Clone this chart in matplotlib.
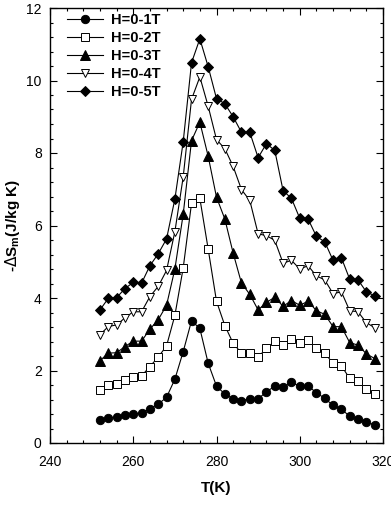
import numpy as np
import matplotlib
matplotlib.use("Agg")
import matplotlib.pyplot as plt
from matplotlib.ticker import MultipleLocator

plt.rcParams['font.family'] = ['Liberation Sans', 'DejaVu Sans']

T = list(range(252, 320, 2))

s1 = [0.63, 0.69, 0.71, 0.76, 0.80, 0.83, 0.95, 1.07, 1.26, 1.76, 2.52, 3.37,
      3.16, 2.20, 1.57, 1.35, 1.22, 1.17, 1.22, 1.22, 1.41, 1.57, 1.54, 1.67,
      1.57, 1.57, 1.39, 1.23, 1.04, 0.93, 0.74, 0.67, 0.58, 0.50]
s2 = [1.46, 1.59, 1.63, 1.73, 1.83, 1.85, 2.11, 2.37, 2.68, 3.52, 4.83, 6.61,
      6.75, 5.35, 3.91, 3.24, 2.75, 2.48, 2.48, 2.37, 2.61, 2.81, 2.70, 2.86,
      2.77, 2.83, 2.61, 2.48, 2.20, 2.13, 1.78, 1.70, 1.48, 1.35]
s3 = [2.27, 2.48, 2.49, 2.66, 2.81, 2.81, 3.14, 3.40, 3.80, 4.80, 6.31, 8.34,
      8.85, 7.91, 6.78, 6.18, 5.24, 4.41, 4.10, 3.67, 3.88, 4.02, 3.77, 3.93,
      3.80, 3.91, 3.65, 3.55, 3.21, 3.21, 2.77, 2.70, 2.46, 2.33]
s4 = [2.99, 3.21, 3.26, 3.45, 3.62, 3.62, 4.04, 4.32, 4.76, 5.83, 7.34, 9.48,
      10.10, 9.29, 8.37, 8.12, 7.63, 6.99, 6.69, 5.77, 5.72, 5.59, 4.96, 5.04,
      4.80, 4.89, 4.61, 4.50, 4.12, 4.17, 3.65, 3.62, 3.32, 3.18]
s5 = [3.67, 3.99, 4.01, 4.26, 4.43, 4.41, 4.89, 5.22, 5.63, 6.73, 8.31, 10.49,
      11.15, 10.38, 9.50, 9.36, 9.00, 8.57, 8.57, 7.87, 8.26, 8.07, 6.96, 6.75,
      6.20, 6.18, 5.70, 5.55, 5.04, 5.11, 4.52, 4.50, 4.17, 4.06]

labels = ["H=0-1T", "H=0-2T", "H=0-3T", "H=0-4T", "H=0-5T"]
series = [s1, s2, s3, s4, s5]
styles = [
    dict(marker='o', mfc='black', ms=6),
    dict(marker='s', mfc='white', ms=5.5),
    dict(marker='^', mfc='black', ms=6.5),
    dict(marker='v', mfc='white', ms=6),
    dict(marker='D', mfc='black', ms=5.5),
]

fig = plt.figure(figsize=(3.91, 5.07), dpi=100)
ax = fig.add_axes([50/391, 1-443/507, 333/391, 435/507])

for lab, s, st in zip(labels, series, styles):
    ax.plot(T, s, color='black', lw=0.8, mec='black', mew=0.7, label=lab, **st)

ax.set_xlim(240, 320)
ax.set_ylim(0, 12)
ax.xaxis.set_major_locator(MultipleLocator(20))
ax.xaxis.set_minor_locator(MultipleLocator(4))
ax.yaxis.set_major_locator(MultipleLocator(2))
ax.yaxis.set_minor_locator(MultipleLocator(0.4))
ax.tick_params(which='both', direction='in', top=True, right=True, labelsize=10, width=0.8)
ax.tick_params(which='major', length=5)
ax.tick_params(which='minor', length=2.5)
ax.tick_params(axis='x', which='major', pad=9)
ax.tick_params(axis='y', which='major', pad=6)
for sp in ax.spines.values():
    sp.set_linewidth(1.0)

ax.set_xlabel("T(K)", fontsize=11, fontweight='bold', labelpad=8)
ax.set_ylabel(r"-$\Delta$S$_{\mathregular{m}}$(J/kg K)", fontsize=11, fontweight='bold', labelpad=3)

leg = ax.legend(loc='upper left', frameon=False, handlelength=2.45,
                prop={'weight': 'bold', 'size': 10.5}, borderaxespad=0, borderpad=0,
                labelspacing=0.27, handletextpad=0.55,
                bbox_to_anchor=(17/333, 1 - 5/435))

fig.savefig("out.png", dpi=100)
